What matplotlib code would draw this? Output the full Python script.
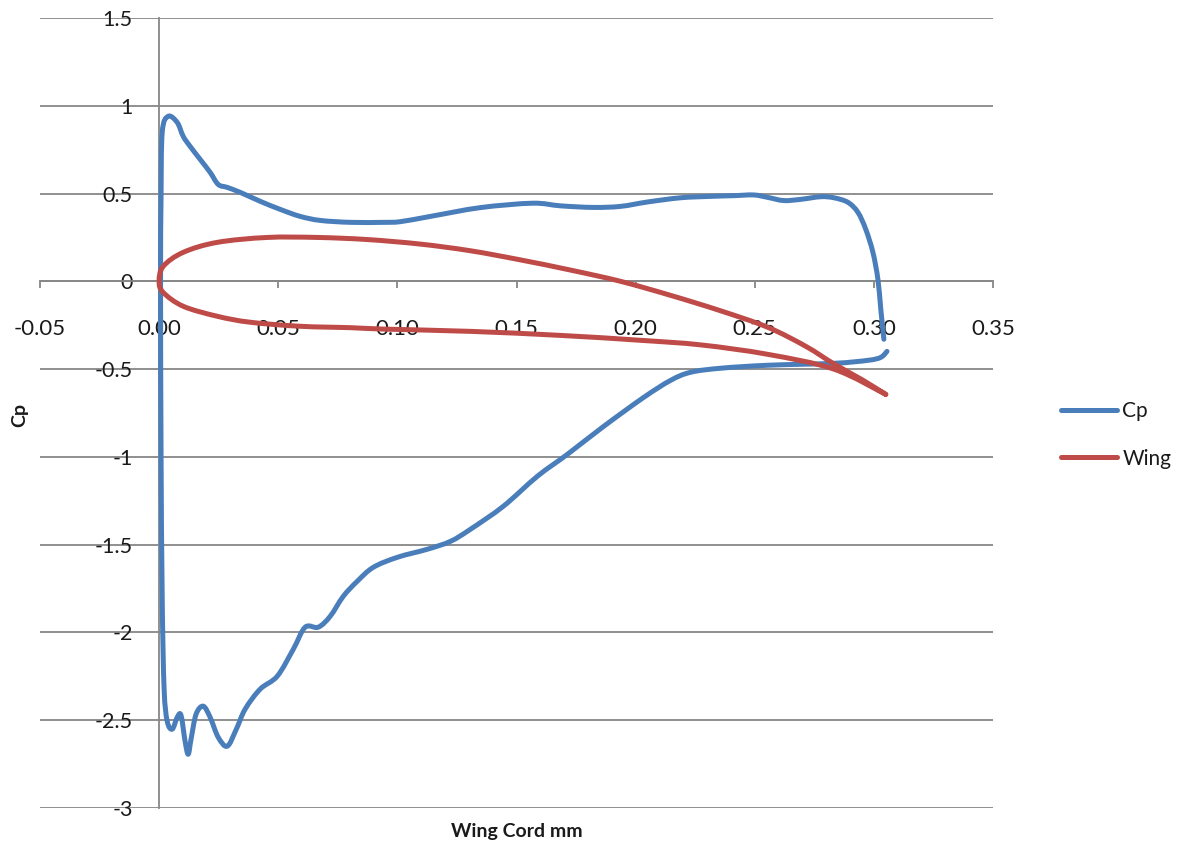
"""Pressure coefficient around a wing section, Excel-style smoothed line chart."""

import matplotlib

matplotlib.use("Agg")
import matplotlib.pyplot as plt
import numpy as np
from matplotlib.lines import Line2D
from matplotlib.patches import PathPatch
from matplotlib.path import Path

plt.rcParams["font.family"] = ["Lato", "DejaVu Sans"]

# Cp along the section: lower surface from trailing edge to leading edge,
# then upper surface back to the trailing edge
cp_x = [
    0.3055, 0.3029, 0.2975, 0.2832, 0.2555, 0.2357, 0.2231, 0.2147, 0.2034,
    0.1866, 0.1714, 0.1588, 0.1445, 0.1307, 0.1223, 0.1126, 0.1000, 0.0899,
    0.0832, 0.0773, 0.0718, 0.0668, 0.0613, 0.0563, 0.0496, 0.0424, 0.0361,
    0.0324, 0.0286, 0.0248, 0.0214, 0.0185, 0.0155, 0.0134, 0.0122, 0.0109,
    0.0092, 0.0076, 0.0055, 0.0034, 0.0021, 0.0013, 0.0008, 0.0006, 0.0008,
    0.0013, 0.0038, 0.0076, 0.0101, 0.0130, 0.0172, 0.0214, 0.0248, 0.0286,
    0.0340, 0.0424, 0.0508, 0.0592, 0.0676, 0.0803, 0.0941, 0.1013, 0.1139,
    0.1349, 0.1567, 0.1685, 0.1824, 0.1937, 0.2050, 0.2189, 0.2315, 0.2412,
    0.2496, 0.2555, 0.2622, 0.2693, 0.2777, 0.2832, 0.2891, 0.2933, 0.2966,
    0.2996, 0.3017, 0.3029, 0.3042,
]
cp_y = [
    -0.399, -0.433, -0.450, -0.467, -0.478, -0.495, -0.518, -0.564, -0.661,
    -0.826, -0.985, -1.110, -1.281, -1.412, -1.481, -1.526, -1.572, -1.629,
    -1.708, -1.794, -1.908, -1.970, -1.970, -2.096, -2.249, -2.323, -2.437,
    -2.551, -2.648, -2.597, -2.483, -2.420, -2.466, -2.608, -2.694, -2.620,
    -2.472, -2.483, -2.551, -2.506, -2.323, -1.811, -0.957, 0.000, 0.467,
    0.849, 0.940, 0.905, 0.826, 0.769, 0.695, 0.621, 0.552, 0.535,
    0.507, 0.456, 0.410, 0.370, 0.347, 0.336, 0.336, 0.340, 0.370,
    0.420, 0.445, 0.430, 0.421, 0.427, 0.452, 0.476, 0.484, 0.488,
    0.492, 0.478, 0.460, 0.467, 0.482, 0.476, 0.450, 0.393, 0.296,
    0.165, 0.011, -0.159, -0.330,
]

# wing profile: upper surface trailing edge -> leading edge -> lower surface
wing_x = [
    0.3050, 0.2950, 0.2832, 0.2714, 0.2555, 0.2357, 0.2147, 0.1937, 0.1727,
    0.1517, 0.1307, 0.1097, 0.0874, 0.0664, 0.0454, 0.0244, 0.0101, 0.0017,
    0.0000, 0.0017, 0.0101, 0.0244, 0.0382, 0.0592, 0.0803, 0.0941, 0.1307,
    0.1685, 0.2021, 0.2273, 0.2555, 0.2832, 0.3050,
]
wing_y = [
    -0.644, -0.560, -0.470, -0.370, -0.262, -0.168, -0.080, 0.000, 0.064,
    0.122, 0.174, 0.212, 0.238, 0.250, 0.250, 0.222, 0.165, 0.085,
    0.000, -0.063, -0.142, -0.199, -0.233, -0.256, -0.264, -0.272, -0.285,
    -0.308, -0.336, -0.362, -0.416, -0.500, -0.644,
]

x_ticks = [-0.05, 0.0, 0.05, 0.10, 0.15, 0.20, 0.25, 0.30, 0.35]
y_ticks = [-3, -2.5, -2, -1.5, -1, -0.5, 0, 0.5, 1, 1.5]
y_tick_labels = ["-3", "-2.5", "-2", "-1.5", "-1", "-0.5", "0", "0.5", "1", "1.5"]

BLUE = "#4A7EBB"
RED = "#BE4B48"
GRID = "#878787"
TEXT = "#1a1a1a"
LINE_W = 3.6


def smooth_path(xs, ys) -> Path:
    """Build an Excel-like smoothed cubic Bezier path through the points."""
    pts = np.column_stack([xs, ys]).astype(float)
    padded = np.vstack([pts[0], pts, pts[-1]])
    verts = [pts[0]]
    codes = [Path.MOVETO]
    for i in range(len(pts) - 1):
        p_prev, p0, p1, p_next = padded[i], padded[i + 1], padded[i + 2], padded[i + 3]
        c1 = p0 + (p1 - p_prev) / 6.0
        c2 = p1 - (p_next - p0) / 6.0
        verts.extend([c1, c2, p1])
        codes.extend([Path.CURVE4] * 3)
    return Path(np.array(verts), codes)


def add_series(ax, xs, ys, color) -> None:
    patch = PathPatch(smooth_path(xs, ys), fill=False, edgecolor=color,
                      lw=LINE_W, joinstyle="round", capstyle="round", zorder=2)
    ax.add_patch(patch)


def main() -> None:
    fig = plt.figure(figsize=(11.87, 8.48), dpi=100)
    ax = fig.add_axes([40 / 1187, 1 - 808 / 848, 953 / 1187, 790 / 848])

    add_series(ax, cp_x, cp_y, BLUE)
    add_series(ax, wing_x, wing_y, RED)

    ax.set_xlim(-0.05, 0.35)
    ax.set_ylim(-3, 1.5)

    for side in ("top", "right"):
        ax.spines[side].set_visible(False)
    ax.spines["left"].set_position(("data", 0))
    ax.spines["bottom"].set_position(("data", 0))
    for side in ("left", "bottom"):
        ax.spines[side].set_color(GRID)
        ax.spines[side].set_linewidth(1.3)
        ax.spines[side].set_zorder(1)

    ax.set_xticks(x_ticks)
    ax.set_xticklabels([f"{v:.2f}" for v in x_ticks])
    ax.set_yticks(y_ticks)
    ax.set_yticklabels(y_tick_labels)
    ax.tick_params(axis="x", direction="out", length=5, width=1.3,
                   color=GRID, pad=22, labelsize=16, labelcolor=TEXT)
    ax.tick_params(axis="y", length=0, pad=19, labelsize=15.5, labelcolor=TEXT)

    ax.yaxis.grid(True, color=GRID, lw=1.3)
    ax.set_axisbelow(True)

    fig.text(20 / 1187, 1 - 415 / 848, "Cp", rotation=90, fontsize=14,
             fontweight="bold", color=TEXT, ha="center", va="center")
    fig.text(517 / 1187, 1 - 832 / 848, "Wing Cord mm", fontsize=14,
             fontweight="bold", color=TEXT, ha="center", va="center")

    handles = [
        Line2D([], [], color=BLUE, lw=LINE_W, solid_capstyle="round"),
        Line2D([], [], color=RED, lw=LINE_W, solid_capstyle="round"),
    ]
    fig.legend(handles, ["Cp", "Wing"], loc="center left",
               bbox_to_anchor=(1042 / 1187, 1 - 435 / 848),
               frameon=False, fontsize=15, handlelength=2.7,
               handletextpad=0.25, labelspacing=1.3, labelcolor=TEXT)

    fig.savefig("out.png", dpi=100)
    plt.close(fig)


if __name__ == "__main__":
    main()
